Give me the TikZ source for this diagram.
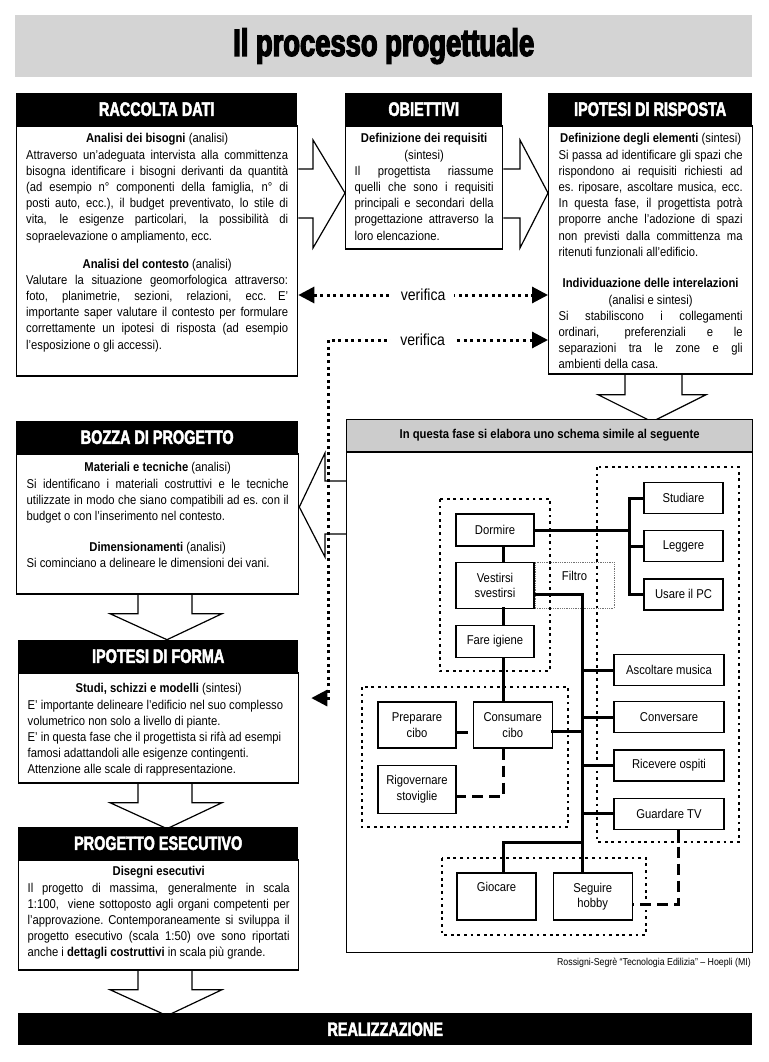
\documentclass[tikz,border=0pt]{standalone}
\usepackage{fontspec}
\setmainfont{Liberation Sans}[FakeStretch=0.88]
\newfontfamily\headfont{Liberation Sans}[FakeStretch=0.74,BoldFeatures={FakeBold=2.5}]
\newfontfamily\titlefont{Liberation Sans}[FakeStretch=0.72,BoldFeatures={FakeBold=3.5}]
\usetikzlibrary{positioning}
\usetikzlibrary{arrows.meta}
\usetikzlibrary{backgrounds}
\newcommand{\blocco}[2]{\vbox{\hsize=#1\relax\parindent=0pt #2}}
\newcommand{\fullline}[1]{\hbox to\hsize{\spaceskip=0.245em plus 1fil minus 0.06em\xspaceskip=\spaceskip #1}}
\newcommand{\bodyfont}{\fontsize{12.8}{16.2}\selectfont}
\newcommand{\actfont}{\fontsize{12.8}{15.5}\selectfont}
\newcommand{\headsize}{\headfont\bfseries\fontsize{19.5}{20}\selectfont}
\newcommand{\titlesize}{\titlefont\bfseries\fontsize{38}{40}\selectfont}
\tikzset{
    header/.style = {fill=black, text=white, font=\headsize, minimum height=32pt, inner sep=0pt, anchor=north west},
    panel/.style = {draw, line width=1.3pt, fill=white, inner sep=0pt, anchor=north west},
    bodytext/.style = {font=\bodyfont, inner sep=0pt, anchor=north},
    bigarrow/.style = {draw, fill=white, line width=1.2pt},
    verif/.style = {line width=3pt, dash pattern=on 3pt off 3.6pt, >={Triangle[length=16pt,width=16pt]}},
    vlabel/.style = {fill=white, font=\fontsize{16}{18}\selectfont, inner xsep=9pt, inner ysep=1pt}}

\begin{document}
\begin{tikzpicture}[x=1pt, y=-1pt, line join=miter,
    act/.style = {draw, line width=1.2pt, fill=white, font=\actfont, align=center, minimum width=79pt, minimum height=31pt, inner sep=1pt},
    link/.style = {line width=3pt, line cap=rect},
    dlink/.style = {line width=3pt, dash pattern=on 11pt off 6pt},
    zone/.style = {line width=2.8pt, dash pattern=on 2.8pt off 3.8pt},
    filtro/.style = {draw=black!55, densely dotted, line width=0.8pt, minimum width=79pt, minimum height=46pt, inner sep=0pt, anchor=west}
    ]
    \useasboundingbox (0,0) rectangle (768,1062);

    % titolo
    \node[fill=black!17, minimum width=737pt, minimum height=62pt, anchor=north west, inner sep=0pt, text=black, font=\titlesize] (titolo) at (15,15) {Il processo progettuale};

    % raccolta dati
    \node[header, minimum width=281pt] (raccoltahead) at (16,93) {RACCOLTA DATI};
    \node[panel, minimum width=281pt, minimum height=250pt] (raccolta) at (raccoltahead.south west) {};
    \node[bodytext] (raccoltatxt) at ([yshift=-8pt]raccolta.north) {\blocco{262pt}{%
        \centerline{\textbf{Analisi dei bisogni} (analisi)}
        \fullline{Attraverso un'adeguata intervista alla committenza}
        \fullline{bisogna identificare i bisogni derivanti da quantità}
        \fullline{(ad esempio n° componenti della famiglia, n° di}
        \fullline{posti auto, ecc.), il budget preventivato, lo stile di}
        \fullline{vita, le esigenze particolari, la possibilità di}
        \leftline{sopraelevazione o ampliamento, ecc.}
        \vskip 11.8pt
        \centerline{\textbf{Analisi del contesto} (analisi)}
        \fullline{Valutare la situazione geomorfologica attraverso:}
        \fullline{foto, planimetrie, sezioni, relazioni, ecc. E'}
        \fullline{importante saper valutare il contesto per formulare}
        \fullline{correttamente un ipotesi di risposta (ad esempio}
        \leftline{l'esposizione o gli accessi).}}};

    % obiettivi
    \node[header, minimum width=157pt] (obiettivihead) at (345,93) {OBIETTIVI};
    \node[panel, minimum width=157pt, minimum height=123pt] (obiettivi) at (obiettivihead.south west) {};
    \node[bodytext] (obiettivitxt) at ([yshift=-8pt]obiettivi.north) {\blocco{139pt}{%
        \centerline{\textbf{Definizione dei requisiti}}
        \centerline{(sintesi)}
        \fullline{Il progettista riassume}
        \fullline{quelli che sono i requisiti}
        \fullline{principali e secondari della}
        \fullline{progettazione attraverso la}
        \leftline{loro elencazione.}}};

    % ipotesi di risposta
    \node[header, minimum width=204pt] (ipotesihead) at (548,93) {IPOTESI DI RISPOSTA};
    \node[panel, minimum width=204pt, minimum height=248pt] (ipotesi) at (ipotesihead.south west) {};
    \node[bodytext] (ipotesitxt) at ([yshift=-8pt]ipotesi.north) {\blocco{184pt}{%
        \centerline{\textbf{Definizione degli elementi} (sintesi)}
        \fullline{Si passa ad identificare gli spazi che}
        \fullline{rispondono ai requisiti richiesti ad}
        \fullline{es. riposare, ascoltare musica, ecc.}
        \fullline{In questa fase, il progettista potrà}
        \fullline{proporre anche l'adozione di spazi}
        \fullline{non previsti dalla committenza ma}
        \leftline{ritenuti funzionali all'edificio.}
        \vskip 15.5pt
        \centerline{\textbf{Individuazione delle interelazioni}}
        \centerline{(analisi e sintesi)}
        \fullline{Si stabiliscono i collegamenti}
        \fullline{ordinari, preferenziali e le}
        \fullline{separazioni tra le zone e gli}
        \leftline{ambienti della casa.}}};

    % bozza di progetto
    \node[header, minimum width=282pt] (bozzahead) at (16,421) {BOZZA DI PROGETTO};
    \node[panel, minimum width=282pt, minimum height=140pt] (bozza) at (bozzahead.south west) {};
    \node[bodytext] (bozzatxt) at ([yshift=-9pt]bozza.north) {\blocco{262pt}{%
        \centerline{\textbf{Materiali e tecniche} (analisi)}
        \fullline{Si identificano i materiali costruttivi e le tecniche}
        \fullline{utilizzate in modo che siano compatibili ad es. con il}
        \leftline{budget o con l'inserimento nel contesto.}
        \vskip 14.8pt
        \centerline{\textbf{Dimensionamenti} (analisi)}
        \leftline{Si cominciano a delineare le dimensioni dei vani.}}};

    % ipotesi di forma
    \node[header, minimum width=280pt] (formahead) at (18,640) {IPOTESI DI FORMA};
    \node[panel, minimum width=280pt, minimum height=110pt] (forma) at (formahead.south west) {};
    \node[bodytext] (formatxt) at ([yshift=-11pt]forma.north) {\blocco{262pt}{%
        \centerline{\textbf{Studi, schizzi e modelli} (sintesi)}
        \leftline{E' importante delineare l'edificio nel suo complesso}
        \leftline{volumetrico non solo a livello di piante.}
        \leftline{E' in questa fase che il progettista si rifà ad esempi}
        \leftline{famosi adattandoli alle esigenze contingenti.}
        \leftline{Attenzione alle scale di rappresentazione.}}};

    % progetto esecutivo
    \node[header, minimum width=280pt] (esecutivohead) at (18,827) {PROGETTO ESECUTIVO};
    \node[panel, minimum width=280pt, minimum height=110pt] (esecutivo) at (esecutivohead.south west) {};
    \node[bodytext] (esecutivotxt) at ([yshift=-7pt]esecutivo.north) {\blocco{262pt}{%
        \centerline{\textbf{Disegni esecutivi}}
        \fullline{Il progetto di massima, generalmente in scala}
        \fullline{1:100,\ \ viene sottoposto agli organi competenti per}
        \fullline{l'approvazione. Contemporaneamente si sviluppa il}
        \fullline{progetto esecutivo (scala 1:50) ove sono riportati}
        \leftline{anche i \textbf{dettagli costruttivi} in scala più grande.}}};

    % realizzazione
    \node[header, minimum width=734pt] (realizzazione) at (18,1013) {REALIZZAZIONE};

    % schema
    \node[panel, minimum width=406pt, minimum height=500pt] (schema) at (346,452) {};
    \node[panel, fill=black!20, minimum width=406pt, minimum height=32pt, anchor=south west, font=\bfseries\actfont] (schemahead) at (schema.north west) {In questa fase si elabora uno schema simile al seguente};
    \node[anchor=east, inner sep=0pt, font=\fontsize{10}{12}\selectfont] (fonte) at (751,963) {Rossigni-Segrè “Tecnologia Edilizia” – Hoepli (MI)};

    \node[act, minimum width=78pt, minimum height=32pt] (dormire) at (495,530) {Dormire};
    \node[act, minimum width=78pt, minimum height=46pt, below=15pt of dormire] (vestirsi) {Vestirsi\\svestirsi};
    \node[act, minimum width=78pt, minimum height=32pt, below=16pt of vestirsi] (igiene) {Fare igiene};
    \node[filtro] (filtro) at (vestirsi.east) {};
    \node[font=\actfont] (filtrotxt) at ([yshift=9pt]filtro.center) {Filtro};
    \node[act] (studiare) at (683.5,498) {Studiare};
    \node[act, below=16pt of studiare] (leggere) {Leggere};
    \node[act, below=16pt of leggere] (usare) {Usare il PC};
    \node[act, minimum width=110pt] (ascoltare) at (669,670) {Ascoltare musica};
    \node[act, minimum width=110pt, below=15pt of ascoltare] (conversare) {Conversare};
    \node[act, minimum width=110pt, below=16pt of conversare] (ricevere) {Ricevere ospiti};
    \node[act, minimum width=110pt, below=16pt of ricevere] (guardare) {Guardare TV};
    \node[act, minimum width=78pt, minimum height=46pt] (preparare) at (417,725) {Preparare\\cibo};
    \node[act, minimum width=79pt, minimum height=46pt, right=16pt of preparare] (consumare) {Consumare\\cibo};
    \node[act, minimum width=78pt, minimum height=48pt, below=16pt of preparare] (rigovernare) {Rigovernare\\stoviglie};
    \node[act, minimum width=79pt, minimum height=47pt] (giocare) at (496.5,896.5) {Giocare\\\strut};
    \node[act, minimum width=79pt, minimum height=47pt, right=16pt of giocare] (seguire) {Seguire\\hobby};

    % collegamenti
    \coordinate (rtree) at (629,0);
    \coordinate (spine) at (582,0);
    \coordinate (nspine) at (503,0);
    \coordinate (tvx) at (678,0);
    \coordinate (jn) at (0,842);
    \draw[link] (dormire.east) -- (dormire.east -| rtree);
    \draw[link] (studiare.west -| rtree) -- (usare.west -| rtree);
    \foreach \n in {studiare,leggere,usare}
        \draw[link] (\n.west) -- (\n.west -| rtree);
    \draw[link] (dormire.south -| nspine) -- (vestirsi.north -| nspine);
    \draw[link] (vestirsi.south -| nspine) -- (igiene.north -| nspine);
    \draw[link] (igiene.south -| nspine) -- (consumare.north -| nspine);
    \coordinate (vout) at ([yshift=-9pt]vestirsi.east);
    \draw[link] (vout) -| (seguire.north -| spine);
    \foreach \n in {ascoltare,conversare,ricevere,guardare}
        \draw[link] (\n.west) -- (\n.west -| spine);
    \coordinate (cout) at ([yshift=-6pt]consumare.east);
    \draw[link] (cout) -- (cout -| spine);
    \draw[link] (jn -| spine) -| (giocare.north -| nspine);
    \draw[dlink] ([yshift=-7pt]preparare.east) -- ([yshift=-7pt]consumare.west);
    \coordinate (rin) at ([yshift=-7pt]rigovernare.east);
    \draw[dlink] (consumare.south -| nspine) |- (rin);
    \coordinate (sin) at ([yshift=-8pt]seguire.east);
    \draw[dlink] (guardare.south -| tvx) |- (sin);

    % zone
    \draw[zone] (440,499) rectangle (550,671);
    \draw[zone] (597,467) rectangle (739,842);
    \draw[zone] (362,687) rectangle (568,827);
    \draw[zone] (442,858) rectangle (646,935);

    % verifica
    \draw[verif, <->] (raccolta.east |- 0,295) -- node[vlabel]{verifica} (ipotesi.west |- 0,295);
    \coordinate (vtop) at (328,340);
    \coordinate (formatip) at ([xshift=12pt,yshift=30pt]forma.east);
    \draw[verif, <->] (formatip) -| (vtop) -- node[vlabel, pos=0.43]{verifica} (ipotesi.west |- vtop);

    % frecce grandi
    \begin{scope}[on background layer]
        \draw[bigarrow] (raccolta.east |- 0,169) -- (313,169) -- (313,140) -- (obiettivi.west |- 0,193) -- (313,248) -- (313,218) -- (raccolta.east |- 0,218);
        \draw[bigarrow] (obiettivi.east |- 0,169) -- (520,169) -- (520,140) -- (ipotesi.west |- 0,193) -- (520,248) -- (520,218) -- (obiettivi.east |- 0,218);
        \draw[bigarrow] (ipotesi.south -| 625,0) -- ++(0,20) -- ++(-27,0) -- ++(54,27) -- ++(54,-27) -- ++(-24,0) -- ++(0,-20);
        \draw[bigarrow] (schema.west |- 0,481) -- (325,481) -- (325,453) -- (bozza.east |- 0,507) -- (325,557) -- (325,534) -- (schema.west |- 0,534);
        \foreach \src in {bozza,forma,esecutivo}
            \draw[bigarrow] (\src.south -| 138,0) -- ++(0,19) -- ++(-28,0) -- ++(57,26) -- ++(55,-26) -- ++(-30,0) -- ++(0,-19);
    \end{scope}
\end{tikzpicture}
\end{document}
